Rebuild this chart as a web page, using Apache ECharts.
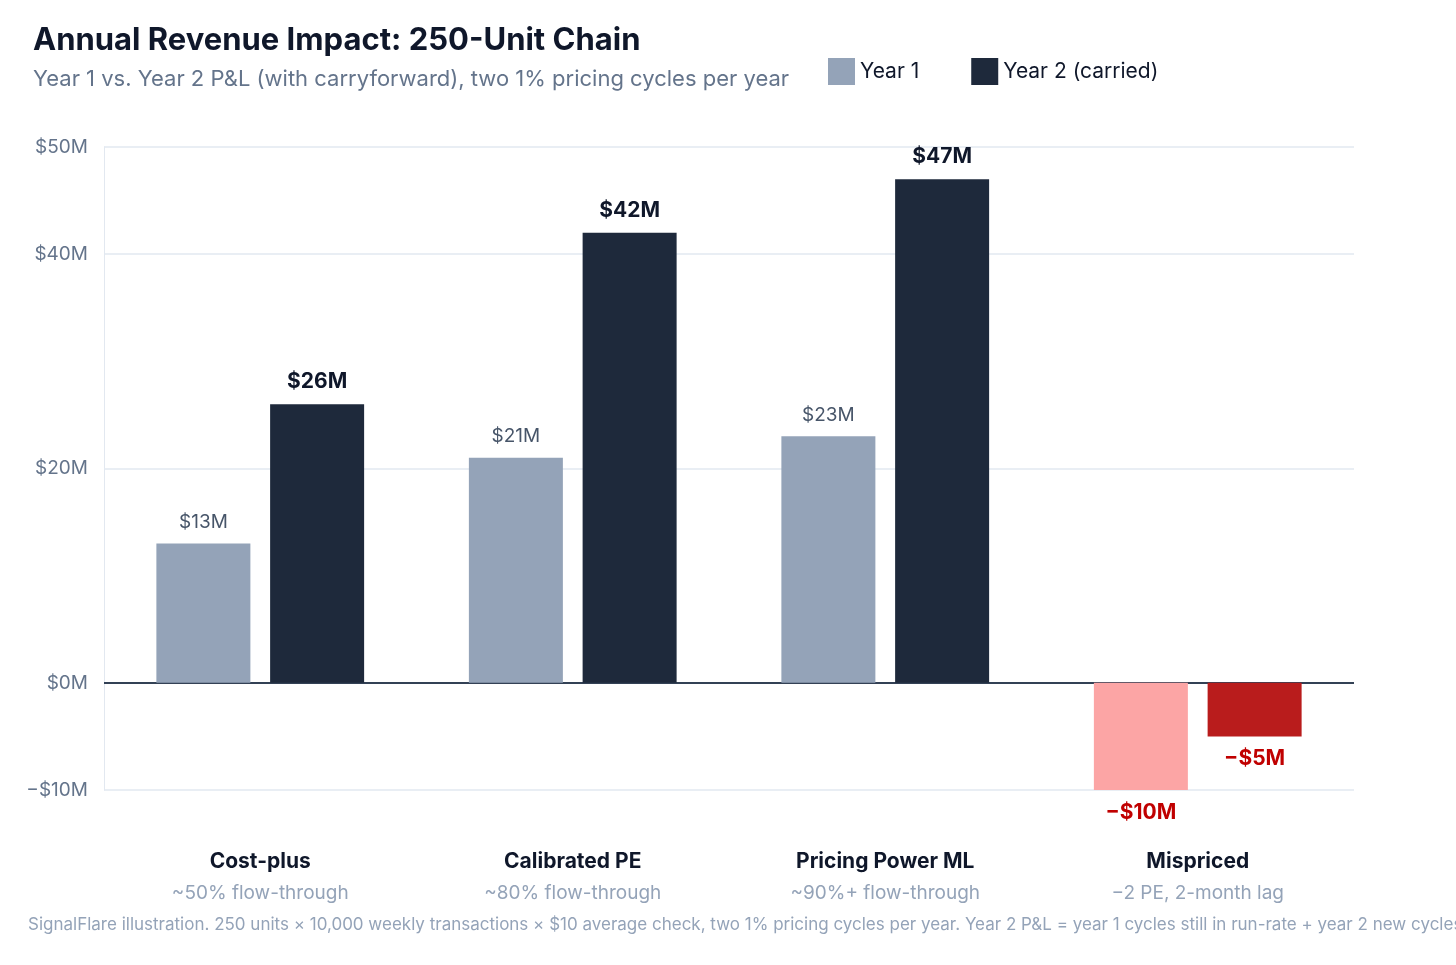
<!DOCTYPE html>
<html><head><meta charset="utf-8">
<script src="https://cdn.jsdelivr.net/npm/echarts@6/dist/echarts.min.js"></script>
<style>html,body{margin:0;background:#fff;overflow:hidden}#c{width:1456px;height:965px}</style>
</head><body><div id="c"></div>
<script>
const CATEGORIES = ['Cost-plus', 'Calibrated PE', 'Pricing Power ML', 'Mispriced'];
const SUBTITLES = ['~50% flow-through', '~80% flow-through', '~90%+ flow-through', '\u22122 PE, 2-month lag'];
const YEAR1 = [13, 21, 23, -10];
const YEAR2 = [26, 42, 47, -5];
const GRID_TICKS = [-10, 0, 20, 40, 50];

const FONT = 'Inter, "Noto Sans", sans-serif';
const fmt = v => (v < 0 ? '\u2212$' + Math.abs(v) : '$' + v) + 'M';

function barData(vals, pos, neg) {
  return vals.map(v => ({ value: v, itemStyle: { color: v < 0 ? neg : pos } }));
}

const chart = echarts.init(document.getElementById('c'));
chart.setOption({
  textStyle: { fontFamily: FONT },
  title: {
    text: 'Annual Revenue Impact: 250-Unit Chain',
    subtext: 'Year 1 vs. Year 2 P&L (with carryforward), two 1% pricing cycles per year',
    left: 28, top: 20, itemGap: 12,
    textStyle: { fontSize: 31, fontWeight: 'bold', color: '#0f172a', fontFamily: FONT },
    subtextStyle: { fontSize: 22, color: '#64748b', fontFamily: FONT },
  },
  legend: {
    left: 823, top: 53, itemWidth: 27, itemHeight: 27, itemGap: 52,
    icon: 'rect',
    textStyle: { fontSize: 21, color: '#0f172a', fontFamily: FONT },
    data: [{ name: 'Year 1', itemStyle: { color: '#94a3b8' } },
           { name: 'Year 2 (carried)', itemStyle: { color: '#1e293b' } }],
  },
  graphic: [{
    type: 'text', left: 28, top: 916,
    style: {
      text: 'SignalFlare illustration. 250 units \u00d7 10,000 weekly transactions \u00d7 $10 average check, two 1% pricing cycles per year. Year 2 P&L = year 1 cycles still in run-rate + year 2 new cycles.',
      fontSize: 17, fill: '#94a3b8', fontFamily: FONT,
    },
  }],
  grid: { left: 104, right: 102, top: 147, bottom: 175 },
  xAxis: {
    type: 'category', data: CATEGORIES,
    axisLine: { show: false }, axisTick: { show: false },
    axisLabel: {
      margin: 56,
      formatter: (v, i) => `{a|${v}}\n{b|${SUBTITLES[i]}}`,
      rich: {
        a: { fontSize: 21, fontWeight: 'bold', color: '#0f172a', lineHeight: 32, fontFamily: FONT },
        b: { fontSize: 19, color: '#94a3b8', lineHeight: 30, fontFamily: FONT },
      },
    },
  },
  yAxis: {
    type: 'value', min: -10, max: 50, interval: 10,
    axisLine: { show: true, lineStyle: { color: '#e2e8f0' } },
    axisTick: { show: false },
    splitLine: { show: false },
    axisLabel: {
      fontSize: 19, color: '#64748b', margin: 16,
      formatter: v => GRID_TICKS.includes(v) ? fmt(v).replace('M', 'M') : '',
    },
  },
  series: [
    {
      name: 'Year 1', type: 'bar', barWidth: 94, barGap: '21%',
      data: barData(YEAR1, '#94a3b8', '#fca5a5'),
      label: {
        show: true, fontSize: 19, fontFamily: FONT, distance: 12,
        formatter: p => fmt(p.value),
        color: '#475569',
        position: 'top',
      },
      labelLayout: p => ({}),
      markLine: {
        silent: true, symbol: 'none', label: { show: false },
        data: GRID_TICKS.filter(v => v !== 0).map(v => ({ yAxis: v, lineStyle: { color: '#e2e8f0', width: 1.5, type: 'solid' } }))
          .concat([{ yAxis: 0, lineStyle: { color: '#334155', width: 2, type: 'solid' } }]),
        z: 1,
      },
    },
    {
      name: 'Year 2 (carried)', type: 'bar', barWidth: 94,
      data: barData(YEAR2, '#1e293b', '#b91c1c'),
      label: {
        show: true, fontSize: 21, fontWeight: 'bold', fontFamily: FONT, distance: 12,
        formatter: p => fmt(p.value), color: '#0f172a', position: 'top',
      },
    },
  ],
});
// negative bar labels: bold red below the bar
const opt = chart.getOption();
const negLabel = { position: 'bottom', color: '#c00000', fontWeight: 'bold', fontSize: 21 };
chart.setOption({
  series: [
    { data: YEAR1.map((v, i) => v < 0 ? { value: v, itemStyle: { color: '#fca5a5' }, label: negLabel } : opt.series[0].data[i]) },
    { data: YEAR2.map((v, i) => v < 0 ? { value: v, itemStyle: { color: '#b91c1c' }, label: negLabel } : opt.series[1].data[i]) },
  ],
});
</script></body></html>
